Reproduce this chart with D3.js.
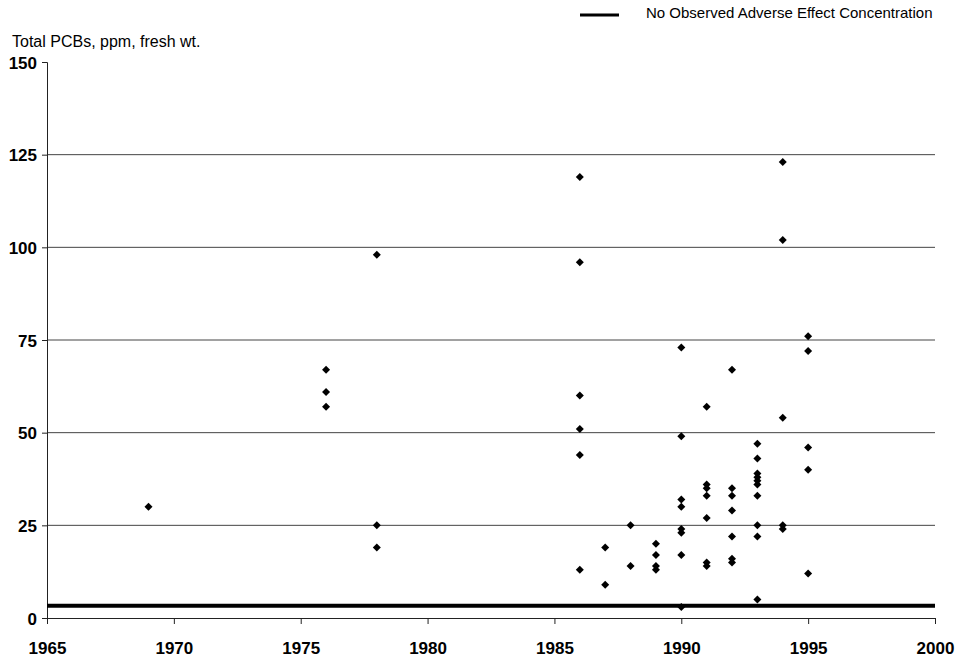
<!DOCTYPE html>
<html>
<head>
<script src="https://d3js.org/d3.v7.min.js"></script>
<style>
	body, html {
		margin: 0;
		padding: 0;
		background: #fff;
		font-family: "Liberation Sans", Arial, sans-serif;
	}
	.tick-label {
		font-weight: bold;
		font-size: 17px;
	}
	.grid line {
		stroke: #444;
		stroke-width: 1;
	}
</style>
</head>
<body>
<script>

	// Data: sampling year and total PCB concentration
	var years = [1969,
		1976, 1976, 1976,
		1978, 1978, 1978,
		1986, 1986, 1986, 1986, 1986, 1986,
		1987, 1987,
		1988, 1988,
		1989, 1989, 1989, 1989,
		1990, 1990, 1990, 1990, 1990, 1990, 1990, 1990,
		1991, 1991, 1991, 1991, 1991, 1991, 1991,
		1992, 1992, 1992, 1992, 1992, 1992, 1992,
		1993, 1993, 1993, 1993, 1993, 1993, 1993, 1993, 1993, 1993,
		1994, 1994, 1994, 1994, 1994,
		1995, 1995, 1995, 1995, 1995];
	var pcbs = [30,
		67, 61, 57,
		98, 25, 19,
		119, 96, 60, 51, 44, 13,
		19, 9,
		25, 14,
		20, 17, 14, 13,
		73, 49, 32, 30, 24, 23, 17, 3,
		57, 36, 35, 33, 27, 15, 14,
		67, 35, 33, 29, 22, 16, 15,
		47, 43, 39, 38, 37, 36, 33, 25, 22, 5,
		123, 102, 54, 25, 24,
		76, 72, 46, 40, 12];

	var noaec = 3.3;
	var xTicks = [1965, 1970, 1975, 1980, 1985, 1990, 1995, 2000];
	var yTicks = [0, 25, 50, 75, 100, 125, 150];
	var gridValues = [25, 50, 75, 100, 125];

	var w = 963, h = 659;
	var margin = {top: 62, right: 28, bottom: 41, left: 47};
	var width = w - margin.left - margin.right;
	var height = h - margin.top - margin.bottom;

	var x = d3.scaleLinear().domain([1965, 2000]).range([0, width]);
	var y = d3.scaleLinear().domain([0, 150]).range([height, 0]);

	var svg = d3.select("body").append("svg")
		.attr("width", w)
		.attr("height", h);

	var chart = svg.append("g")
		.attr("transform", "translate(" + margin.left + "," + margin.top + ")");

	// horizontal grid lines
	chart.append("g")
		.attr("class", "grid")
		.selectAll("line")
		.data(gridValues)
		.enter().append("line")
			.attr("x1", 0)
			.attr("x2", width)
			.attr("y1", function(d){ return y(d); })
			.attr("y2", function(d){ return y(d); });

	// axes
	var yAxis = d3.axisLeft(y).tickValues(yTicks).tickSize(5).tickPadding(5);
	var xAxis = d3.axisBottom(x).tickValues(xTicks).tickFormat(d3.format("d")).tickSize(6).tickPadding(18);

	var gy = chart.append("g").call(yAxis);
	var gx = chart.append("g").attr("transform", "translate(0," + height + ")").call(xAxis);

	[gx, gy].forEach(function(g){
		g.select(".domain").attr("stroke", "#222");
		g.selectAll(".tick line").attr("stroke", "#222");
		g.selectAll(".tick text")
			.attr("class", "tick-label")
			.attr("fill", "#000")
			.style("font-family", "'Liberation Sans', Arial, sans-serif");
	});
	gy.selectAll(".tick text").attr("dy", "0.36em");

	// NOAEC reference line
	chart.append("line")
		.attr("x1", 0)
		.attr("x2", width)
		.attr("y1", y(noaec))
		.attr("y2", y(noaec))
		.attr("stroke", "#000")
		.attr("stroke-width", 4);

	// points: squares turned 45 degrees, as wide as they are tall
	var marker = d3.symbol().type(d3.symbolSquare).size(32);
	chart.selectAll(".pt")
		.data(years)
		.enter().append("path")
			.attr("class", "pt")
			.attr("d", marker)
			.attr("transform", function(d, i){
				return "translate(" + x(d) + "," + y(pcbs[i]) + ") rotate(45)";
			})
			.attr("fill", "#000");

	// axis title
	svg.append("text")
		.attr("x", 12)
		.attr("y", 47)
		.style("font-size", "16px")
		.text("Total PCBs, ppm, fresh wt.");

	// legend
	svg.append("line")
		.attr("x1", 580).attr("x2", 619)
		.attr("y1", 15).attr("y2", 15)
		.attr("stroke", "#000")
		.attr("stroke-width", 3);
	svg.append("text")
		.attr("x", 646)
		.attr("y", 18)
		.style("font-size", "15px")
		.text("No Observed Adverse Effect Concentration");

</script>
</body>
</html>
